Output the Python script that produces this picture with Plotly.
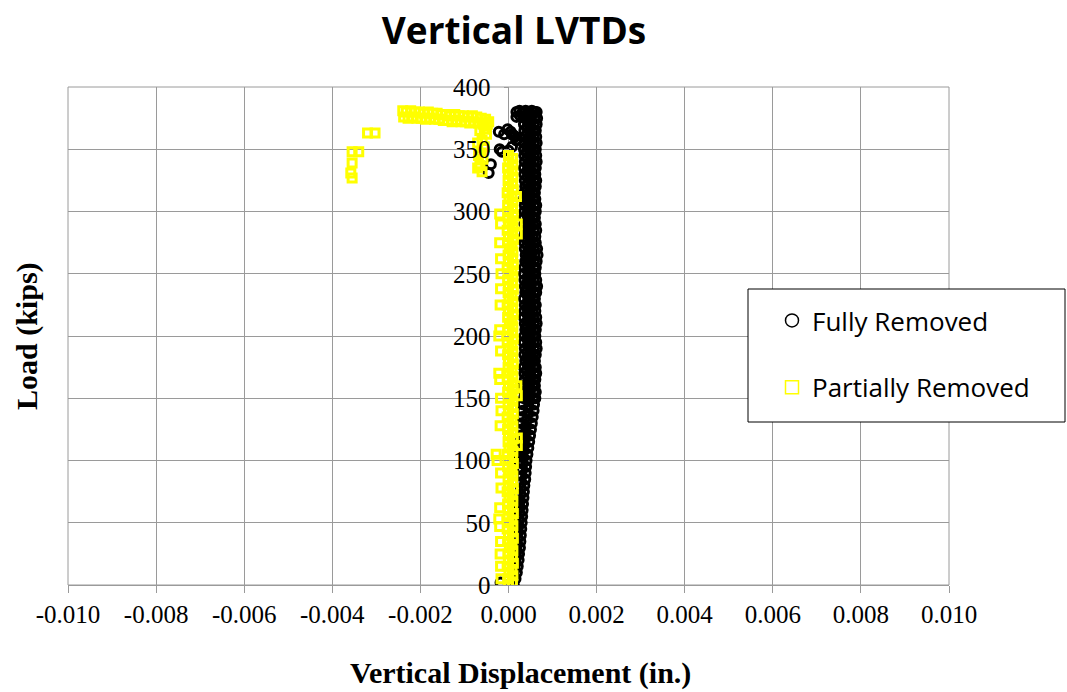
import plotly.graph_objects as go

# ---------------- data ----------------
x_tick_vals = [-0.010, -0.008, -0.006, -0.004, -0.002, 0.000, 0.002, 0.004, 0.006, 0.008, 0.010]
x_tick_text = ["-0.010", "-0.008", "-0.006", "-0.004", "-0.002", "0.000", "0.002", "0.004", "0.006", "0.008", "0.010"]
y_tick_vals = [0, 50, 100, 150, 200, 250, 300, 350, 400]
y_tick_text = ["0", "50", "100", "150", "200", "250", "300", "350", "400"]

# Fully Removed -- right-edge path of the black column
fully_load_a = [0, 5, 10, 15, 20, 25, 30, 35, 40, 45, 50, 55, 60, 65, 70, 75, 80, 85, 90, 95,
                100, 105, 110, 115, 120, 125, 130, 135, 140, 145, 150, 155, 160, 165, 170, 175,
                180, 185, 190, 195, 200, 205, 210, 215, 220, 225, 230, 235, 240, 245, 250, 255,
                260, 265, 270, 275, 280, 285, 290, 295, 300, 305, 310, 315, 320, 325, 330, 335,
                340, 345, 350, 355, 360, 365, 370, 375, 380]
fully_disp_a = [0.00012, 0.00016, 0.00019, 0.00021, 0.00023, 0.00024, 0.00026, 0.00027, 0.00028, 0.00029,
                0.00030, 0.00031, 0.00032, 0.00033, 0.00034, 0.00035, 0.00036, 0.00038, 0.00039, 0.00040,
                0.00041, 0.00043, 0.00045, 0.00047, 0.00049, 0.00051, 0.00053, 0.00055, 0.00057, 0.00058,
                0.00061, 0.00062, 0.00060, 0.00061, 0.00063, 0.00062, 0.00060, 0.00062, 0.00064, 0.00063,
                0.00061, 0.00062, 0.00064, 0.00063, 0.00061, 0.00062, 0.00060, 0.00063, 0.00065, 0.00063,
                0.00061, 0.00062, 0.00064, 0.00066, 0.00065, 0.00062, 0.00061, 0.00063, 0.00062, 0.00060,
                0.00062, 0.00063, 0.00061, 0.00060, 0.00062, 0.00063, 0.00061, 0.00062, 0.00064, 0.00063,
                0.00062, 0.00064, 0.00063, 0.00062, 0.00064, 0.00065, 0.00064]

# Fully Removed -- middle path
fully_load_b = [2.5, 7.5, 12.5, 17.5, 22.5, 27.5, 32.5, 37.5, 42.5, 47.5, 52.5, 57.5, 62.5, 67.5, 72.5,
                77.5, 82.5, 87.5, 92.5, 97.5, 102.5, 107.5, 112.5, 117.5, 122.5, 127.5, 132.5, 137.5,
                142.5, 147.5, 152.5, 157.5, 162.5, 167.5, 172.5, 177.5, 182.5, 187.5, 192.5, 197.5,
                202.5, 207.5, 212.5, 217.5, 222.5, 227.5, 232.5, 237.5, 242.5, 247.5, 252.5, 257.5,
                262.5, 267.5, 272.5, 277.5, 282.5, 287.5, 292.5, 297.5, 302.5, 307.5, 312.5, 317.5,
                322.5, 327.5, 332.5, 337.5, 342.5, 347.5, 352.5, 357.5, 362.5, 367.5, 372.5, 377.5]
fully_disp_b = [0.00008, 0.00012, 0.00014, 0.00016, 0.00018, 0.00019, 0.00020, 0.00021, 0.00022, 0.00023,
                0.00024, 0.00025, 0.00026, 0.00026, 0.00027, 0.00028, 0.00029, 0.00030, 0.00031, 0.00032,
                0.00033, 0.00034, 0.00036, 0.00037, 0.00039, 0.00040, 0.00042, 0.00044, 0.00045, 0.00047,
                0.00049, 0.00050, 0.00048, 0.00051, 0.00050, 0.00049, 0.00052, 0.00050, 0.00051, 0.00049,
                0.00050, 0.00052, 0.00051, 0.00049, 0.00050, 0.00051, 0.00048, 0.00052, 0.00050, 0.00051,
                0.00049, 0.00050, 0.00052, 0.00053, 0.00051, 0.00050, 0.00049, 0.00051, 0.00050, 0.00048,
                0.00050, 0.00051, 0.00049, 0.00050, 0.00052, 0.00050, 0.00051, 0.00049, 0.00052, 0.00051,
                0.00050, 0.00052, 0.00051, 0.00050, 0.00052, 0.00053]

# Fully Removed -- left-edge path (mostly hidden behind the yellow column)
fully_load_c = [100, 105, 110, 115, 120, 125, 130, 135, 140, 145, 150, 155, 160, 165, 170, 175, 180,
                185, 190, 195, 200, 205, 210, 215, 220, 225, 230, 235, 240, 245, 250, 255, 260, 265,
                270, 275, 280, 285, 290, 295, 300, 305, 310, 315, 320, 325, 330, 335, 340, 345, 350,
                355, 360, 365, 370, 375, 380]
fully_disp_c = [0.00024, 0.00025, 0.00026, 0.00027, 0.00028, 0.00029, 0.00030, 0.00031, 0.00032, 0.00033,
                0.00035, 0.00036, 0.00034, 0.00037, 0.00036, 0.00035, 0.00038, 0.00036, 0.00037, 0.00035,
                0.00036, 0.00038, 0.00037, 0.00035, 0.00036, 0.00037, 0.00035, 0.00038, 0.00037, 0.00036,
                0.00035, 0.00036, 0.00038, 0.00039, 0.00037, 0.00036, 0.00035, 0.00037, 0.00036, 0.00035,
                0.00036, 0.00037, 0.00035, 0.00036, 0.00038, 0.00037, 0.00036, 0.00035, 0.00037, 0.00036,
                0.00035, 0.00036, 0.00037, 0.00036, 0.00035, 0.00036, 0.00037]

# Fully Removed -- second interior path
fully_load_e = [152.5, 157.5, 162.5, 167.5, 172.5, 177.5, 182.5, 187.5, 192.5, 197.5,
                202.5, 207.5, 212.5, 217.5, 222.5, 227.5, 232.5, 237.5, 242.5, 247.5,
                252.5, 257.5, 262.5, 267.5, 272.5, 277.5, 282.5, 287.5, 292.5, 297.5,
                302.5, 307.5, 312.5, 317.5, 322.5, 327.5, 332.5, 337.5, 342.5, 347.5,
                352.5, 357.5, 362.5, 367.5, 372.5, 377.5]
fully_disp_e = [0.00043, 0.00042, 0.00044, 0.00043, 0.00041, 0.00044, 0.00042, 0.00043, 0.00045, 0.00042,
                0.00043, 0.00041, 0.00044, 0.00043, 0.00042, 0.00044, 0.00043, 0.00041, 0.00042, 0.00044,
                0.00045, 0.00043, 0.00042, 0.00044, 0.00043, 0.00041, 0.00042, 0.00044, 0.00043, 0.00042,
                0.00044, 0.00043, 0.00041, 0.00042, 0.00044, 0.00043, 0.00042, 0.00044, 0.00043, 0.00041,
                0.00042, 0.00044, 0.00043, 0.00042, 0.00044, 0.00043]

# Fully Removed -- third interior path
fully_load_f = [150, 155, 160, 165, 170, 175, 180, 185, 190, 195,
                200, 205, 210, 215, 220, 225, 230, 235, 240, 245,
                250, 255, 260, 265, 270, 275, 280, 285, 290, 295,
                300, 305, 310, 315, 320, 325, 330, 335, 340, 345,
                350, 355, 360, 365, 370, 375, 380]
fully_disp_f = [0.00056, 0.00057, 0.00055, 0.00056, 0.00058, 0.00057, 0.00055, 0.00056, 0.00058, 0.00057,
                0.00056, 0.00057, 0.00058, 0.00056, 0.00055, 0.00057, 0.00056, 0.00058, 0.00059, 0.00057,
                0.00056, 0.00057, 0.00058, 0.00059, 0.00058, 0.00056, 0.00055, 0.00057, 0.00056, 0.00055,
                0.00057, 0.00058, 0.00056, 0.00055, 0.00057, 0.00058, 0.00056, 0.00057, 0.00058, 0.00057,
                0.00056, 0.00058, 0.00057, 0.00056, 0.00058, 0.00059, 0.00058]

# Fully Removed -- isolated points and the band at peak load
fully_disp_d = [-0.00018, -0.00045, -0.00040, -0.00020, 0.00000, -0.00022, -0.00002, 0.00008, 0.00015,
                0.00020, -0.00010, 0.00005, 0.00012, 0.00018, 0.00008, -0.00015,
                0.00018, 0.00025, 0.00032, 0.00039, 0.00046, 0.00053, 0.00060,
                0.00018, 0.00026, 0.00034, 0.00042]
fully_load_d = [2, 331, 338, 350, 349, 364, 366, 362, 360,
                358, 362, 364, 361, 357, 352, 348,
                380, 381, 380, 381, 380, 381, 380,
                376, 377, 376, 377]

# Partially Removed -- main column, left half
part_load_a = [0, 5, 10, 15, 20, 25, 30, 35, 40, 45, 50, 55, 60, 65, 70, 75, 80, 85, 90, 95, 100,
               105, 110, 115, 120, 125, 130, 135, 140, 145, 150, 155, 160, 165, 170, 175, 180, 185,
               190, 195, 200, 205, 210, 215, 220, 225, 230, 235, 240, 245, 250, 255, 260, 265, 270,
               275, 280, 285, 290, 295, 300, 305, 310, 315, 320, 325, 330, 335, 340, 345]
part_disp_a = [0.00000, -0.00002, 0.00001, -0.00003, 0.00000, -0.00001, 0.00002, -0.00002, 0.00000, -0.00003,
               0.00001, -0.00001, 0.00000, -0.00002, 0.00001, -0.00003, 0.00000, -0.00001, 0.00002, -0.00002,
               0.00000, -0.00003, 0.00001, -0.00001, 0.00000, -0.00002, 0.00001, -0.00003, 0.00000, -0.00001,
               0.00002, -0.00002, 0.00000, -0.00003, 0.00001, -0.00001, 0.00000, -0.00002, 0.00001, -0.00003,
               0.00000, -0.00001, 0.00002, -0.00002, 0.00000, -0.00003, 0.00001, -0.00001, 0.00000, -0.00002,
               0.00001, -0.00003, 0.00000, -0.00001, 0.00002, -0.00002, 0.00000, -0.00003, 0.00001, -0.00001,
               0.00000, -0.00002, 0.00001, -0.00003, 0.00000, -0.00001, 0.00000, -0.00002, 0.00001, 0.00000]

# Partially Removed -- main column, right half
part_load_b = [2.5, 7.5, 12.5, 17.5, 22.5, 27.5, 32.5, 37.5, 42.5, 47.5, 52.5, 57.5, 62.5, 67.5, 72.5,
               77.5, 82.5, 87.5, 92.5, 97.5, 102.5, 107.5, 112.5, 117.5, 122.5, 127.5, 132.5, 137.5,
               142.5, 147.5, 152.5, 157.5, 162.5, 167.5, 172.5, 177.5, 182.5, 187.5, 192.5, 197.5,
               202.5, 207.5, 212.5, 217.5, 222.5, 227.5, 232.5, 237.5, 242.5, 247.5, 252.5, 257.5,
               262.5, 267.5, 272.5, 277.5, 282.5, 287.5, 292.5, 297.5, 302.5, 307.5, 312.5, 317.5,
               322.5, 327.5, 332.5, 337.5, 342.5]
part_disp_b = [0.00009, 0.00010, 0.00008, 0.00011, 0.00009, 0.00010, 0.00008, 0.00011, 0.00009, 0.00010,
               0.00008, 0.00011, 0.00009, 0.00010, 0.00008, 0.00011, 0.00009, 0.00010, 0.00008, 0.00011,
               0.00009, 0.00010, 0.00008, 0.00011, 0.00009, 0.00010, 0.00008, 0.00011, 0.00009, 0.00010,
               0.00008, 0.00011, 0.00009, 0.00010, 0.00008, 0.00011, 0.00009, 0.00010, 0.00008, 0.00011,
               0.00009, 0.00010, 0.00008, 0.00011, 0.00009, 0.00010, 0.00008, 0.00011, 0.00009, 0.00010,
               0.00008, 0.00011, 0.00009, 0.00010, 0.00008, 0.00011, 0.00009, 0.00010, 0.00008, 0.00011,
               0.00009, 0.00010, 0.00008, 0.00011, 0.00009, 0.00010, 0.00008, 0.00010, 0.00009]

# Partially Removed -- scattered points beside the column
part_disp_c = [-0.00020, -0.00018, -0.00020, -0.00018, -0.00017, -0.00018, -0.00019, -0.00022, -0.00020,
               -0.00018, -0.00022, -0.00020, -0.00018, -0.00017, -0.00019, -0.00028, -0.00026, -0.00018,
               -0.00017, -0.00020, -0.00022, -0.00020, -0.00018, -0.00019, -0.00018, -0.00017,
               0.00020, 0.00020, 0.00019, 0.00020, 0.00020, 0.00020, 0.00018]
part_load_c = [298, 290, 275, 262, 250, 238, 225, 200, 205, 188, 170, 165, 150, 140, 128, 105, 100, 90,
               78, 62, 53, 47, 35, 25, 15, 5,
               290, 282, 160, 152, 118, 112, 312]

# Partially Removed -- top cluster (peak load and unloading region)
part_disp_d = [-0.00060, -0.00065, -0.00058, -0.00062, -0.00055, -0.00060, -0.00050, -0.00055, -0.00048,
               -0.00070, -0.00068, -0.00070, -0.00065, -0.00045,
               -0.00240, -0.00232, -0.00222, -0.00212, -0.00202, -0.00192, -0.00182, -0.00172, -0.00162,
               -0.00152, -0.00142, -0.00132, -0.00122, -0.00112, -0.00102, -0.00092, -0.00082, -0.00072,
               -0.00062, -0.00052,
               -0.00238, -0.00228, -0.00218, -0.00208, -0.00198, -0.00188, -0.00178, -0.00168, -0.00158,
               -0.00148, -0.00138, -0.00128, -0.00118, -0.00108, -0.00098, -0.00088, -0.00078, -0.00068,
               -0.00058,
               -0.00320, -0.00303, -0.00355, -0.00340, -0.00355, -0.00358, -0.00355]
part_load_d = [332, 337, 342, 347, 352, 357, 362, 366, 370, 335, 345, 355, 365, 372,
               381, 380, 381, 380, 380, 379, 380, 379, 379, 378, 378, 377, 378, 377, 377, 376, 377, 376,
               375, 374,
               376, 375, 376, 375, 375, 374, 375, 374, 374, 373, 373, 372, 373, 372, 372, 371, 372, 371,
               370,
               363, 363, 348, 348, 339, 331, 327]

# ---------------- figure ----------------
fully_x = fully_disp_a + fully_disp_b + fully_disp_c + fully_disp_e + fully_disp_f + fully_disp_d
fully_y = fully_load_a + fully_load_b + fully_load_c + fully_load_e + fully_load_f + fully_load_d
part_x = part_disp_a + part_disp_b + part_disp_c + part_disp_d
part_y = part_load_a + part_load_b + part_load_c + part_load_d

fig = go.Figure()
fig.add_trace(go.Scatter(
    x=fully_x, y=fully_y, mode="markers", name="Fully Removed", showlegend=False,
    marker=dict(symbol="circle-open", size=9, color="black", line=dict(width=3, color="black")),
))
fig.add_trace(go.Scatter(
    x=part_x, y=part_y, mode="markers", name="Partially Removed", showlegend=False,
    marker=dict(symbol="square-open", size=8, color="#FFFF00", line=dict(width=3, color="#FFFF00")),
))
# legend-only entries (thin outlines as in the reference legend)
fig.add_trace(go.Scatter(
    x=[None], y=[None], mode="markers", name="Fully Removed", legendgroup="g1",
    marker=dict(symbol="circle-open", size=13, color="black", line=dict(width=1.5, color="black")),
))
fig.add_trace(go.Scatter(
    x=[None], y=[None], mode="markers", name="Partially Removed", legendgroup="g2",
    marker=dict(symbol="square-open", size=13, color="#FFFF00", line=dict(width=1.5, color="#FFFF00")),
))

# figure fills the page exactly (body margin removed below)
W, H = 1067, 692
PL, PR, PT, PB = 68, 949, 87, 585          # plot box in page pixels
L, R, T, B = PL, W - PR, PT, H - PB
pw, ph = PR - PL, PB - PT

def px_x(p):
    return (p - PL) / pw

def px_y(p):
    return (PB - p) / ph

grid = "#9a9a9a"
fig.update_layout(
    width=W, height=H,
    margin=dict(l=L, r=R, t=T, b=B),
    paper_bgcolor="white", plot_bgcolor="white",
    title=dict(text="<b>Vertical LVTDs</b>", x=px_x(514), xref="paper", xanchor="center",
               y=1 - 31 / H, yref="container", yanchor="middle",
               font=dict(family="Open Sans", size=37, color="black")),
    xaxis=dict(range=[-0.010, 0.010], tickvals=x_tick_vals, ticktext=x_tick_text,
               showgrid=True, gridcolor=grid, gridwidth=1, zeroline=False,
               showline=True, linecolor=grid, linewidth=1,
               ticks="outside", ticklen=7, tickcolor=grid,
               tickfont=dict(family="Liberation Serif", size=25, color="black")),
    yaxis=dict(range=[0, 400], tickvals=y_tick_vals, ticktext=y_tick_text,
               anchor="free", position=0.5,
               showgrid=True, gridcolor=grid, gridwidth=1, zeroline=False,
               showline=False, ticks="outside", ticklen=5, tickcolor=grid,
               ticklabelstandoff=8,
               tickfont=dict(family="Liberation Serif", size=25, color="black")),
    legend=dict(x=px_x(772), y=px_y(297), xanchor="left", yanchor="top",
                bgcolor="rgba(0,0,0,0)", borderwidth=0, traceorder="grouped",
                tracegroupgap=30,
                font=dict(family="Open Sans", size=26, color="black")),
    shapes=[
        dict(type="rect", xref="paper", yref="paper", x0=0, x1=1, y0=0, y1=1,
             line=dict(color=grid, width=1), layer="below"),
        dict(type="rect", xref="paper", yref="paper", x0=px_x(748), x1=px_x(1065),
             y0=px_y(422), y1=px_y(289), line=dict(color="black", width=1),
             fillcolor="white", layer="above"),
    ],
    annotations=[
        dict(text="<b>Load (kips)</b>", xref="paper", yref="paper", x=px_x(27), y=px_y(336),
             xanchor="center", yanchor="middle", textangle=-90, showarrow=False,
             font=dict(family="Liberation Serif", size=30, color="black")),
        dict(text="<b>Vertical Displacement (in.)</b>", xref="paper", yref="paper",
             x=px_x(520), y=px_y(673), xanchor="center", yanchor="middle", showarrow=False,
             font=dict(family="Liberation Serif", size=30, color="black")),
    ],
)

fig.write_html("out.html", config={"displayModeBar": False},
               post_script="document.body.style.margin='0';")
